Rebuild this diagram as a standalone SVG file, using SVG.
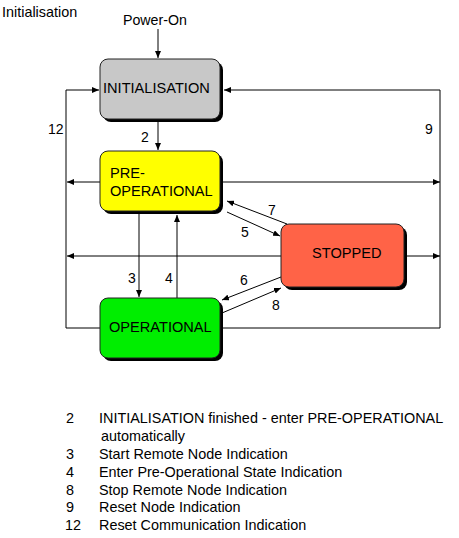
<svg xmlns="http://www.w3.org/2000/svg" width="459" height="538" viewBox="0 0 459 538">
<defs>
<marker id="ah" markerWidth="7" markerHeight="6" refX="7" refY="3" orient="auto" markerUnits="userSpaceOnUse">
<path d="M0,0 L7,3 L0,6 Z" fill="#000"/>
</marker>
</defs>
<style>
text{font-family:"Liberation Sans",Arial,sans-serif;font-size:14px;fill:#000}
.lg text{font-size:14.4px}
.box{stroke:#222;stroke-width:1}
.sh{fill:#000}
.c{fill:none;stroke:#000;stroke-width:1}
</style>
<rect width="459" height="538" fill="#fff"/>
<text x="2" y="17" style="font-size:14.4px">Initialisation</text>
<text x="123" y="25" style="font-size:14.2px">Power-On</text>

<g id="connectors">
<path class="c" d="M158,29 V58" marker-end="url(#ah)"/>
<path class="c" d="M100,328 H66 V90 H99" marker-end="url(#ah)"/>
<path class="c" d="M222,328 H440 V90 H224" marker-end="url(#ah)"/>
<path class="c" d="M158,122 V150" marker-end="url(#ah)"/>
<path class="c" d="M100,182 H67" marker-end="url(#ah)"/>
<path class="c" d="M223,182 H440" marker-end="url(#ah)"/>
<path class="c" d="M281,256 H67" marker-end="url(#ah)"/>
<path class="c" d="M406,256 H440" marker-end="url(#ah)"/>
<path class="c" d="M139,214 V297" marker-end="url(#ah)"/>
<path class="c" d="M177,298 V215" marker-end="url(#ah)"/>
<path class="c" d="M287,224 L227,201" marker-end="url(#ah)"/>
<path class="c" d="M227,212 L280,236" marker-end="url(#ah)"/>
<path class="c" d="M281,277 L222,300" marker-end="url(#ah)"/>
<path class="c" d="M222,313 L281,288" marker-end="url(#ah)"/>
</g>

<g id="labels">
<text x="48" y="134">12</text>
<text x="425" y="134">9</text>
<text x="141" y="142">2</text>
<text x="128" y="283">3</text>
<text x="165" y="283">4</text>
<text x="268" y="215">7</text>
<text x="241" y="237">5</text>
<text x="240" y="285">6</text>
<text x="272" y="310">8</text>
</g>

<g id="n-init">
<rect class="sh" x="103" y="62" width="120" height="60" rx="8"/>
<rect class="box" x="100" y="59" width="120" height="60" rx="8" fill="#c8c8c8"/>
<text x="103" y="93" style="font-size:14.6px">INITIALISATION</text>
</g>
<g id="n-preop">
<rect class="sh" x="103" y="154" width="120" height="60" rx="8"/>
<rect class="box" x="100" y="151" width="120" height="60" rx="8" fill="#ffff00"/>
<text x="110" y="178" style="font-size:14.6px">PRE-</text>
<text x="110" y="196" style="font-size:14.6px">OPERATIONAL</text>
</g>
<g id="n-stopped">
<rect class="sh" x="284" y="227" width="123" height="63" rx="8"/>
<rect class="box" x="281" y="224" width="123" height="63" rx="8" fill="#ff6347"/>
<text x="312" y="258" style="font-size:14.6px">STOPPED</text>
</g>
<g id="n-op">
<rect class="sh" x="103" y="301" width="120" height="60" rx="8"/>
<rect class="box" x="100" y="298" width="120" height="60" rx="8" fill="#00ee00"/>
<text x="109" y="332" style="font-size:14.6px">OPERATIONAL</text>
</g>

<g id="legend" class="lg">
<text x="66" y="423">2</text><text x="99" y="423">INITIALISATION finished - enter PRE-OPERATIONAL</text>
<text x="101" y="441">automatically</text>
<text x="66" y="459">3</text><text x="99" y="459">Start Remote Node Indication</text>
<text x="66" y="477">4</text><text x="99" y="477">Enter Pre-Operational State Indication</text>
<text x="66" y="495">8</text><text x="99" y="495">Stop Remote Node Indication</text>
<text x="66" y="512">9</text><text x="99" y="512">Reset Node Indication</text>
<text x="65" y="530">12</text><text x="99" y="530">Reset Communication Indication</text>
</g>
</svg>
